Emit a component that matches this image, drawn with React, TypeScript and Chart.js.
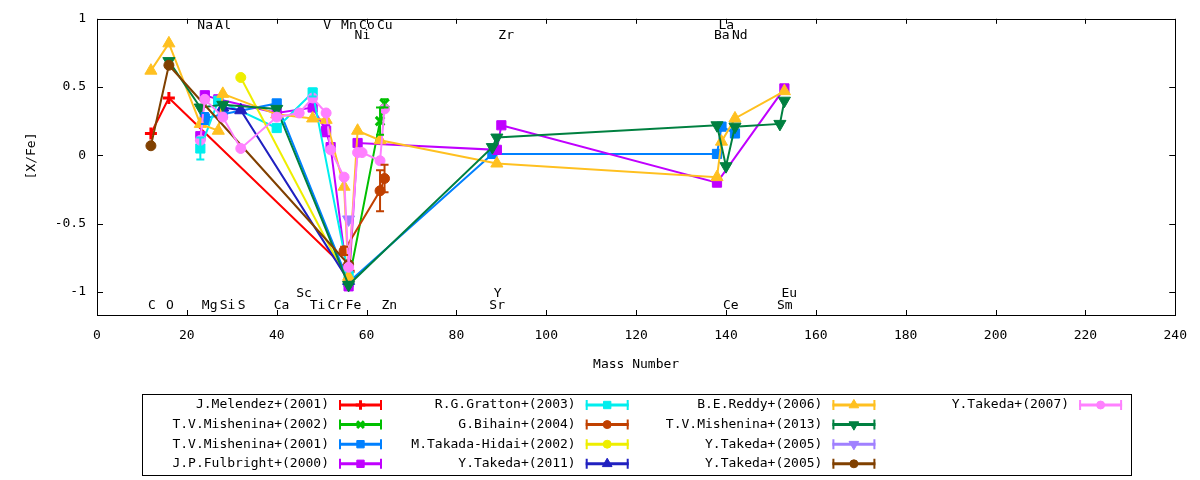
import React, { useEffect, useRef } from "react";
import { Chart, registerables } from "chart.js";
import { drawPoint } from "chart.js/helpers";

Chart.register(...registerables);

const FONT = '"DejaVu Sans Mono", monospace';

// ---- Data (mass number vs [X/Fe]) ----
const melendezX = [12, 16, 56];
const melendezY = [0.16, 0.42, -0.85];
const melendezE = [0, 0, 0];

const mishenina02X = [56, 63, 64];
const mishenina02Y = [-0.93, 0.25, 0.38];
const mishenina02E = [0, 0.1, 0.03];

const mishenina01X = [24, 28, 40, 56, 88, 138, 139, 142];
const mishenina01Y = [0.27, 0.3, 0.38, -0.93, 0.01, 0.01, 0.21, 0.16];
const mishenina01E = [0.04, 0, 0, 0, 0, 0, 0, 0];

const fulbrightX = [23, 24, 27, 40, 48, 51, 52, 56, 58, 89, 90, 138, 153];
const fulbrightY = [0.14, 0.44, 0.41, 0.31, 0.35, 0.18, 0.06, -0.96, 0.09, 0.04, 0.22, -0.2, 0.49];
const fulbrightE = [0, 0, 0, 0, 0, 0.04, 0, 0, 0, 0, 0, 0, 0];

const grattonX = [23, 27, 40, 48, 56];
const grattonY = [0.05, 0.4, 0.2, 0.46, -0.88];
const grattonE = [0.08, 0, 0, 0.03, 0];

const bihainX = [55, 63, 64];
const bihainY = [-0.7, -0.26, -0.17];
const bihainE = [0.03, 0.15, 0.1];

const takadaX = [32, 56];
const takadaY = [0.57, -0.93];
const takadaE = [0, 0];

const takeda11X = [28, 32, 56];
const takeda11Y = [0.35, 0.33, -0.92];
const takeda11E = [0, 0, 0];

const reddyX = [12, 16, 23, 27, 28, 40, 48, 51, 55, 56, 58, 63, 89, 138, 139, 142, 153];
const reddyY = [0.62, 0.82, 0.23, 0.18, 0.45, 0.3, 0.27, 0.26, -0.23, -0.89, 0.18, 0.11, -0.06, -0.16, 0.1, 0.27, 0.47];
const reddyE = [0, 0, 0, 0, 0, 0, 0, 0, 0, 0, 0, 0, 0, 0, 0, 0, 0];

const mishenina13X = [16, 23, 28, 40, 56, 88, 89, 138, 140, 142, 152, 153];
const mishenina13Y = [0.69, 0.35, 0.37, 0.34, -0.95, 0.06, 0.13, 0.22, -0.08, 0.21, 0.23, 0.4];
const mishenina13E = [0, 0, 0, 0, 0, 0, 0, 0, 0, 0, 0, 0];

const takeda05aX = [56];
const takeda05aY = [-0.47];
const takeda05aE = [0];

const takeda05bX = [12, 16, 56];
const takeda05bY = [0.07, 0.66, -0.8];
const takeda05bE = [0, 0, 0];

const takeda07X = [23, 24, 28, 32, 40, 45, 48, 51, 52, 55, 56, 58, 59, 63, 64];
const takeda07Y = [0.11, 0.41, 0.28, 0.05, 0.28, 0.31, 0.42, 0.31, 0.04, -0.16, -0.82, 0.02, 0.02, -0.04, 0.34];
const takeda07E = [0, 0, 0, 0, 0, 0, 0, 0, 0, 0, 0, 0, 0, 0, 0];

const seriesLabels = [
  "J.Melendez+(2001)",
  "T.V.Mishenina+(2002)",
  "T.V.Mishenina+(2001)",
  "J.P.Fulbright+(2000)",
  "R.G.Gratton+(2003)",
  "G.Bihain+(2004)",
  "M.Takada-Hidai+(2002)",
  "Y.Takeda+(2011)",
  "B.E.Reddy+(2006)",
  "T.V.Mishenina+(2013)",
  "Y.Takeda+(2005)",
  "Y.Takeda+(2005)",
  "Y.Takeda+(2007)",
];
const seriesX = [melendezX, mishenina02X, mishenina01X, fulbrightX, grattonX, bihainX, takadaX, takeda11X, reddyX, mishenina13X, takeda05aX, takeda05bX, takeda07X];
const seriesY = [melendezY, mishenina02Y, mishenina01Y, fulbrightY, grattonY, bihainY, takadaY, takeda11Y, reddyY, mishenina13Y, takeda05aY, takeda05bY, takeda07Y];
const seriesE = [melendezE, mishenina02E, mishenina01E, fulbrightE, grattonE, bihainE, takadaE, takeda11E, reddyE, mishenina13E, takeda05aE, takeda05bE, takeda07E];

// element labels
const elemNames = ["C", "O", "Na", "Mg", "Al", "Si", "S", "Ca", "Sc", "Ti", "V", "Cr", "Mn", "Fe", "Ni", "Co", "Cu", "Zn", "Sr", "Y", "Zr", "Ba", "La", "Ce", "Nd", "Sm", "Eu"];
const elemMass = [12, 16, 23, 24, 27, 28, 32, 40, 45, 48, 51, 52, 55, 56, 58, 59, 63, 64, 88, 89, 90, 138, 139, 140, 142, 152, 153];
const elemRow = [3, 3, 0, 3, 0, 3, 3, 3, 2, 3, 0, 3, 0, 3, 1, 0, 0, 3, 3, 2, 1, 1, 0, 3, 1, 3, 2];

const xTickValues = [0, 20, 40, 60, 80, 100, 120, 140, 160, 180, 200, 220, 240];
const yTickValues = [-1, -0.5, 0, 0.5, 1];
const yTickLabels = ["-1", "-0.5", "0", "0.5", "1"];

// ---- Styles ----
const COLORS = ["#ff0000", "#00c000", "#0080ff", "#c000ff", "#00eeee", "#c04000", "#eeee00", "#2020c0", "#ffc020", "#008040", "#a080ff", "#804000", "#ff80ff"];
const POINT_STYLE = ["cross", "crossRot", "rect", "rect", "rect", "circle", "circle", "triangle", "triangle", "triangle", "triangle", "circle", "circle"];
const POINT_ROT = [0, 0, 0, 0, 0, 0, 0, 0, 0, 180, 180, 0, 0];
const LABEL_ROW_Y = [0.95, 0.88, -1.01, -1.1];

function pointRadius(style: string) {
  if (style === "rect") return 6.5;
  if (style === "triangle") return 7;
  if (style === "circle") return 5;
  return 6;
}
function pointBorder(style: string) {
  return style === "cross" || style === "crossRot" ? 3 : 1;
}

const gnuplotPlugin = {
  id: "gnuplotLook",
  afterDatasetsDraw(chart: any) {
    const ctx = chart.ctx;
    const xs = chart.scales.x;
    const ys = chart.scales.y;
    ctx.save();
    seriesX.forEach((xArr, s) => {
      ctx.strokeStyle = COLORS[s];
      ctx.lineWidth = 2;
      xArr.forEach((m, i) => {
        const e = seriesE[s][i];
        if (!e) return;
        const px = xs.getPixelForValue(m);
        const t = ys.getPixelForValue(seriesY[s][i] + e);
        const b = ys.getPixelForValue(seriesY[s][i] - e);
        ctx.beginPath();
        ctx.moveTo(px, t);
        ctx.lineTo(px, b);
        ctx.moveTo(px - 4, t);
        ctx.lineTo(px + 4, t);
        ctx.moveTo(px - 4, b);
        ctx.lineTo(px + 4, b);
        ctx.stroke();
      });
    });
    ctx.restore();
  },
  afterDraw(chart: any) {
    const ctx = chart.ctx;
    const { left, right, top, bottom } = chart.chartArea;
    const xs = chart.scales.x;
    const ys = chart.scales.y;
    ctx.save();
    // frame
    ctx.strokeStyle = "#000";
    ctx.lineWidth = 1;
    ctx.strokeRect(Math.round(left) + 0.5, Math.round(top) + 0.5, Math.round(right - left), Math.round(bottom - top));
    // inward ticks
    ctx.beginPath();
    xTickValues.forEach((v) => {
      const px = Math.round(xs.getPixelForValue(v)) + 0.5;
      ctx.moveTo(px, bottom);
      ctx.lineTo(px, bottom - 5);
      ctx.moveTo(px, top);
      ctx.lineTo(px, top + 5);
    });
    yTickValues.forEach((v) => {
      const py = Math.round(ys.getPixelForValue(v)) + 0.5;
      ctx.moveTo(left, py);
      ctx.lineTo(left + 6, py);
      ctx.moveTo(right, py);
      ctx.lineTo(right - 6, py);
    });
    ctx.stroke();

    // element labels
    ctx.fillStyle = "#000";
    ctx.font = `13px ${FONT}`;
    ctx.textAlign = "left";
    ctx.textBaseline = "middle";
    elemNames.forEach((n, i) => {
      ctx.fillText(n, xs.getPixelForValue(elemMass[i]) - 3, ys.getPixelForValue(LABEL_ROW_Y[elemRow[i]]));
    });

    // axis titles
    ctx.textAlign = "center";
    ctx.fillText("Mass Number", (left + right) / 2, 365);
    ctx.save();
    ctx.translate(32, 156);
    ctx.rotate(-Math.PI / 2);
    ctx.fillText("[X/Fe]", 0, 0);
    ctx.restore();

    // legend box
    ctx.strokeStyle = "#000";
    ctx.lineWidth = 1;
    ctx.strokeRect(142.5, 394.5, 989, 81);
    seriesLabels.forEach((lab, i) => {
      const col = Math.floor(i / 4);
      const row = i % 4;
      const tr = 329 + col * 246.7;
      const y = 405 + row * 19.6;
      ctx.fillStyle = "#000";
      ctx.textAlign = "right";
      ctx.fillText(lab, tr, y);
      const x0 = tr + 10;
      const x1 = tr + 53;
      ctx.strokeStyle = COLORS[i];
      ctx.fillStyle = COLORS[i];
      ctx.lineWidth = 3;
      ctx.beginPath();
      ctx.moveTo(x0, y);
      ctx.lineTo(x1, y);
      ctx.stroke();
      ctx.lineWidth = 2;
      ctx.beginPath();
      ctx.moveTo(x0 + 1, y - 5);
      ctx.lineTo(x0 + 1, y + 5);
      ctx.moveTo(x1 - 1, y - 5);
      ctx.lineTo(x1 - 1, y + 5);
      ctx.stroke();
      const st = POINT_STYLE[i];
      ctx.lineWidth = pointBorder(st);
      drawPoint(ctx, { pointStyle: st, rotation: POINT_ROT[i], radius: pointRadius(st) * 0.8, borderWidth: pointBorder(st) } as any, (x0 + x1) / 2, y);
    });
    ctx.restore();
  },
};

export default function App() {
  const ref = useRef<HTMLCanvasElement | null>(null);
  useEffect(() => {
    if (!ref.current) return;
    const datasets = seriesLabels.map((lab, s) => {
      const st = POINT_STYLE[s];
      return {
        label: lab,
        data: seriesX[s].map((m, i) => ({ x: m, y: seriesY[s][i] })),
        showLine: true,
        borderColor: COLORS[s],
        backgroundColor: COLORS[s],
        borderWidth: 2,
        pointStyle: st,
        pointRotation: POINT_ROT[s],
        pointRadius: pointRadius(st),
        pointBackgroundColor: COLORS[s],
        pointBorderColor: COLORS[s],
        pointBorderWidth: pointBorder(st),
        order: seriesLabels.length - s,
      };
    });
    const chart = new Chart(ref.current, {
      type: "scatter",
      data: { datasets } as any,
      options: {
        animation: false,
        responsive: false,
        layout: { padding: { top: 17, right: 23, left: 0, bottom: 0 } },
        plugins: { legend: { display: false }, tooltip: { enabled: false } },
        scales: {
          x: {
            type: "linear",
            min: 0,
            max: 240,
            afterBuildTicks: (scale: any) => {
              scale.ticks = xTickValues.map((v) => ({ value: v }));
            },
            afterFit: (scale: any) => {
              scale.height = 165;
            },
            grid: { display: false, drawTicks: false },
            border: { display: false },
            ticks: { color: "#000", padding: 13, font: { family: FONT, size: 13 }, maxRotation: 0 },
          },
          y: {
            type: "linear",
            min: -1.17,
            max: 1,
            afterBuildTicks: (scale: any) => {
              scale.ticks = yTickValues.map((v) => ({ value: v }));
            },
            afterFit: (scale: any) => {
              scale.width = 97;
            },
            grid: { display: false, drawTicks: false },
            border: { display: false },
            ticks: {
              color: "#000",
              padding: 11,
              font: { family: FONT, size: 13 },
              callback: (v: number) => {
                const k = yTickValues.findIndex((t) => Math.abs(t - v) < 1e-9);
                return k >= 0 ? yTickLabels[k] : "";
              },
            },
          },
        },
      } as any,
      plugins: [gnuplotPlugin],
    });
    return () => chart.destroy();
  }, []);
  return (
    <div style={{ position: "absolute", left: 0, top: 0, width: 1200, height: 480, background: "#fff" }}>
      <canvas ref={ref} width={1200} height={480} />
    </div>
  );
}
